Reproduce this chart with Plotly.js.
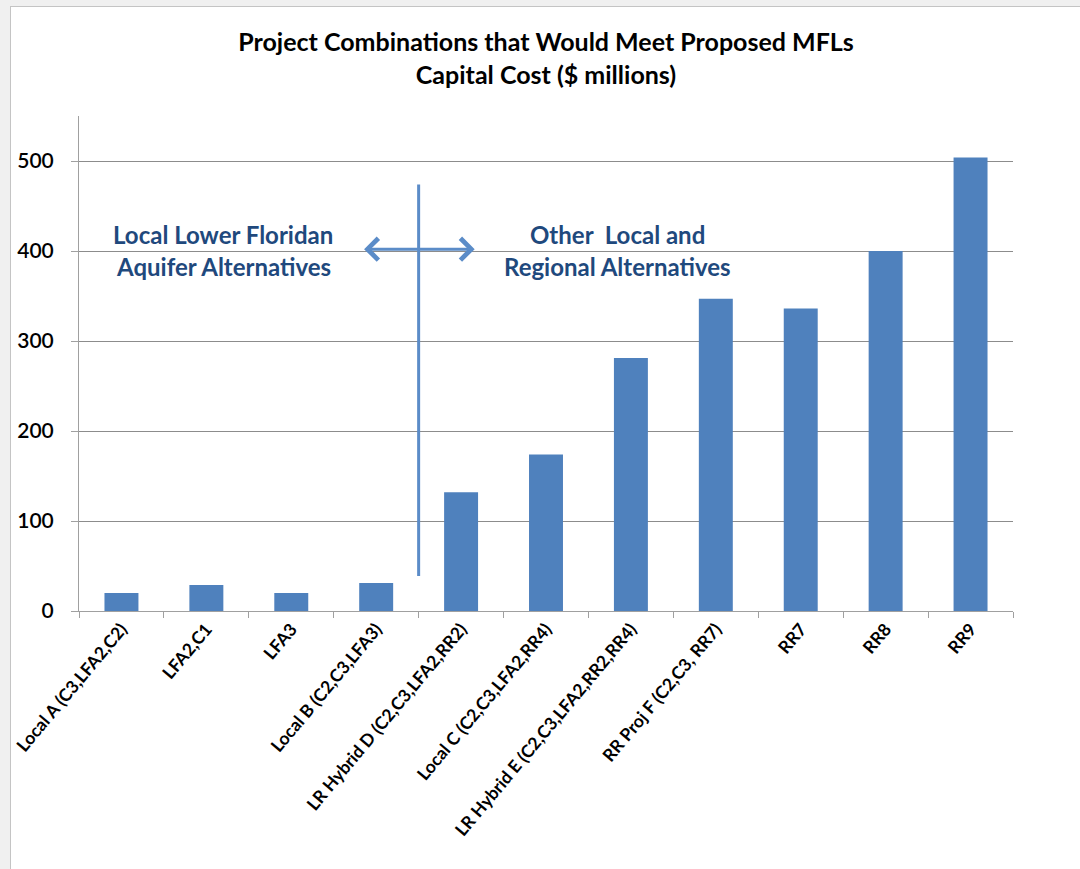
<!DOCTYPE html>
<html>
<head>
<meta charset="utf-8">
<script src="https://cdn.plot.ly/plotly-3.0.1.min.js"></script>
<style>
html, body { margin:0; padding:0; background:#f0f0f0; overflow:hidden; width:1080px; height:869px; }
#wrap { position:absolute; left:10px; top:6px; width:1080px; height:869px; background:#fff; border-left:1px solid #c4c4c4; border-top:1px solid #c4c4c4; }
#chart { width:1080px; height:869px; }
</style>
</head>
<body>
<div id="wrap"><div id="chart"></div></div>
<script>
const categories = [
  "Local A (C3,LFA2,C2)", "LFA2,C1", "LFA3", "Local B (C2,C3,LFA3)",
  "LR Hybrid D (C2,C3,LFA2,RR2)", "Local C (C2,C3,LFA2,RR4)",
  "LR Hybrid E (C2,C3,LFA2,RR2,RR4)", "RR Proj F (C2,C3, RR7)",
  "RR7", "RR8", "RR9"
];
const capitalCost = [20, 29, 20, 31, 132, 174, 281, 347, 336, 400, 504];
const yTicks = [0, 100, 200, 300, 400, 500];

const barColor = "#4f81bd";
const lineColor = "#5b8cc8";
const noteColor = "#1f497d";
const font = "Lato, 'Open Sans', sans-serif";

const data = [{
  type: "bar",
  x: categories,
  y: capitalCost,
  marker: { color: barColor },
  hoverinfo: "x+y"
}];

const layout = {
  width: 1080, height: 869,
  margin: { l: 68, r: 78, t: 109, b: 265 },
  paper_bgcolor: "rgba(0,0,0,0)",
  plot_bgcolor: "#ffffff",
  showlegend: false,
  bargap: 0.6,
  title: {
    text: "Project Combinations that Would Meet Proposed MFLs<br>Capital Cost ($ millions)",
    font: { family: font, size: 25, color: "#000", weight: 700 },
    x: 0.5, xref: "paper", xanchor: "center",
    y: 0.949, yanchor: "middle"
  },
  xaxis: {
    type: "category",
    tickangle: -50,
    tickfont: { family: font, size: 17.5, color: "#000", weight: 700 },
    ticks: "outside", tickson: "boundaries", ticklen: 6, tickcolor: "#a0a0a0",
    showline: true, linecolor: "#a0a0a0", linewidth: 1,
    showgrid: false, zeroline: false,
    fixedrange: true
  },
  yaxis: {
    range: [0, 550],
    tickvals: yTicks,
    tickfont: { family: font, size: 21, color: "#000", weight: 600 },
    ticks: "outside", ticklen: 7, tickcolor: "#a0a0a0",
    showline: true, linecolor: "#a0a0a0", linewidth: 1,
    showgrid: true, gridcolor: "#8c8c8c", gridwidth: 1,
    zeroline: false,
    ticklabelstandoff: 13
  },
  shapes: [{
    type: "line", xref: "x", yref: "y",
    x0: 3.5, x1: 3.5, y0: 39, y1: 474,
    line: { color: lineColor, width: 3 }
  }],
  annotations: [
    { xref: "x", yref: "y", x: 4.16, y: 402, ax: 2.84, ay: 402, axref: "x", ayref: "y",
      text: "", showarrow: true, arrowside: "end+start", arrowhead: 4, startarrowhead: 4,
      arrowsize: 1.4, startarrowsize: 1.4, arrowwidth: 3, arrowcolor: lineColor },
    { xref: "x", yref: "y", x: 1.2, y: 418.5, text: "Local Lower Floridan", showarrow: false,
      font: { family: font, size: 24, color: noteColor, weight: 700 } },
    { xref: "x", yref: "y", x: 1.2, y: 383, text: "Aquifer Alternatives", showarrow: false,
      font: { family: font, size: 24, color: noteColor, weight: 700 } },
    { xref: "x", yref: "y", x: 5.84, y: 418.5, text: "Other&nbsp; Local and", showarrow: false,
      font: { family: font, size: 24, color: noteColor, weight: 700 } },
    { xref: "x", yref: "y", x: 5.84, y: 383, text: "Regional Alternatives", showarrow: false,
      font: { family: font, size: 24, color: noteColor, weight: 700 } }
  ]
};

Plotly.newPlot("chart", data, layout, { displayModeBar: false, staticPlot: true });
</script>
</body>
</html>
